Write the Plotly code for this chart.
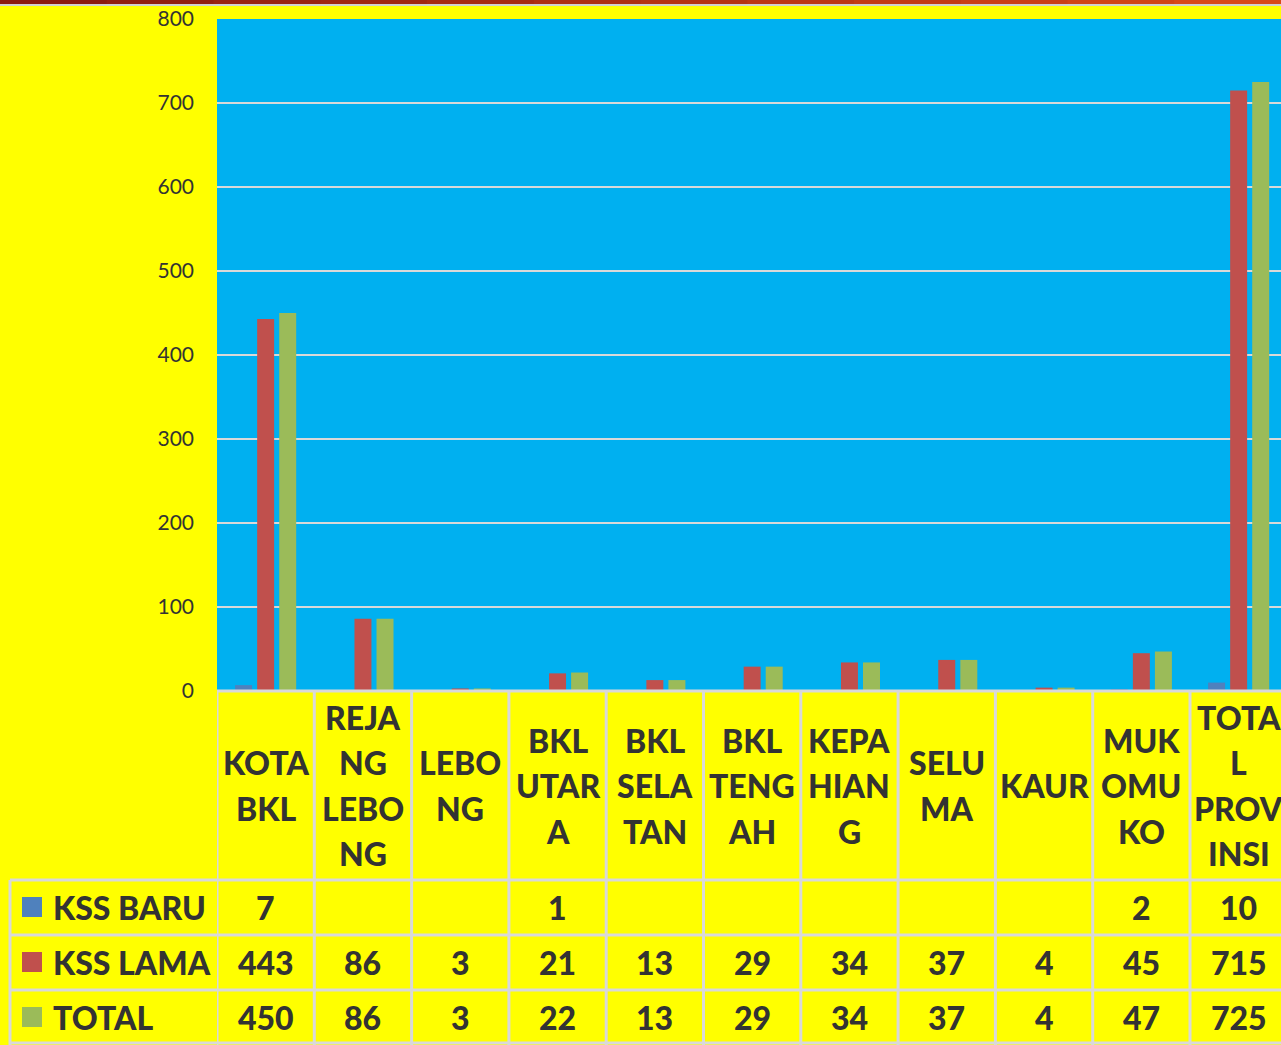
import plotly.graph_objects as go

# ---------------- data ----------------
categories = ["KOTA BKL", "REJANG LEBONG", "LEBONG", "BKL UTARA", "BKL SELATAN",
              "BKL TENGAH", "KEPAHIANG", "SELUMA", "KAUR", "MUKOMUKO", "TOTAL PROVINSI"]
category_lines = [["KOTA", "BKL"], ["REJA", "NG", "LEBO", "NG"], ["LEBO", "NG"],
                  ["BKL", "UTAR", "A"], ["BKL", "SELA", "TAN"], ["BKL", "TENG", "AH"],
                  ["KEPA", "HIAN", "G"], ["SELU", "MA"], ["KAUR"], ["MUK", "OMU", "KO"],
                  ["TOTA", "L", "PROV", "INSI"]]
series_names = ["KSS BARU", "KSS LAMA", "TOTAL"]
kss_baru = [7, None, None, 1, None, None, None, None, None, 2, 10]
kss_lama = [443, 86, 3, 21, 13, 29, 34, 37, 4, 45, 715]
total = [450, 86, 3, 22, 13, 29, 34, 37, 4, 47, 725]
y_ticks = [0, 100, 200, 300, 400, 500, 600, 700, 800]

colors = ["#4F81BD", "#C0504D", "#9BBB59"]
W, H = 1281, 1045
TXT = "#333333"
FONT = "Lato"
LINE = "#D9D9D9"
BIG = 32

def py(p):  # pixel y -> paper
    return 1 - p / H

def px(p):
    return p / W

plot_left, plot_top, plot_bottom = 217, 19, 691
cat_w = 97.3
x_end = -0.5 + (W - plot_left) / cat_w

fig = go.Figure()
for name, vals, col in zip(series_names, [kss_baru, kss_lama, total], colors):
    fig.add_trace(go.Bar(x=list(range(len(categories))), y=vals, name=name,
                         marker=dict(color=col, line=dict(width=0)),
                         showlegend=False, hovertext=categories))

shapes = []
annotations = []

# top decorative bar
n_seg = 12
for i in range(n_seg):
    t = i / (n_seg - 1)
    r = int(0x8B + (0xD8 - 0x8B) * t)
    g = int(0x1A + (0x48 - 0x1A) * t)
    b = int(0x10 + (0x18 - 0x10) * t)
    shapes.append(dict(type="rect", xref="paper", yref="paper",
                       x0=i / n_seg, x1=(i + 1) / n_seg + 0.001, y0=py(4), y1=1,
                       fillcolor=f"rgb({r},{g},{b})", line=dict(width=0), layer="above"))
shapes.append(dict(type="rect", xref="paper", yref="paper", x0=0, x1=1,
                   y0=py(6), y1=py(4), fillcolor="#D0D0D0", line=dict(width=0)))

# table vertical lines at category boundaries
for i in range(len(categories) + 1):
    shapes.append(dict(type="line", xref="x", yref="paper", x0=i - 0.5, x1=i - 0.5,
                       y0=py(H), y1=py(plot_bottom), line=dict(color=LINE, width=3)))
# legend column left border
shapes.append(dict(type="line", xref="paper", yref="paper", x0=px(10), x1=px(10),
                   y0=py(H), y1=py(880), line=dict(color=LINE, width=3)))
# horizontal lines
for yy in [880, 935, 990, 1043]:
    shapes.append(dict(type="line", xref="paper", yref="paper", x0=px(10), x1=1,
                       y0=py(yy), y1=py(yy), line=dict(color=LINE, width=3)))
# axis baseline
shapes.append(dict(type="line", xref="paper", yref="paper", x0=px(plot_left), x1=1,
                   y0=py(plot_bottom), y1=py(plot_bottom), line=dict(color=LINE, width=3)))

# category labels (each line separately for spacing)
header_mid = (plot_bottom + 880) / 2
line_sp = 45.5
for i, lines in enumerate(category_lines):
    n = len(lines)
    for k, ln in enumerate(lines):
        yy = header_mid + (k - (n - 1) / 2) * line_sp
        annotations.append(dict(x=i, xref="x", y=py(yy), yref="paper", text=ln,
                                showarrow=False, xanchor="center", yanchor="middle",
                                font=dict(family=FONT, size=BIG, color=TXT, weight=900)))

# value rows
row_centers = [907, 962, 1017]
for r, (name, vals, col) in enumerate(zip(series_names, [kss_baru, kss_lama, total], colors)):
    yc = row_centers[r]
    shapes.append(dict(type="rect", xref="paper", yref="paper", x0=px(22), x1=px(42),
                       y0=py(yc + 10), y1=py(yc - 10), fillcolor=col, line=dict(width=0)))
    annotations.append(dict(x=px(51), xref="paper", y=py(yc), yref="paper", text=name,
                            showarrow=False, xanchor="left", yanchor="middle",
                            font=dict(family=FONT, size=BIG, color=TXT, weight=900)))
    for i, v in enumerate(vals):
        if v is None:
            continue
        annotations.append(dict(x=i, xref="x", y=py(yc), yref="paper", text=str(v),
                                showarrow=False, xanchor="center", yanchor="middle",
                                font=dict(family=FONT, size=BIG, color=TXT, weight=900)))

fig.update_layout(
    width=W, height=H, autosize=False,
    margin=dict(l=0, r=0, t=0, b=0, pad=0, autoexpand=False),
    paper_bgcolor="#FFFF00",
    plot_bgcolor="#00B0F0",
    barmode="group", bargap=0.32, bargroupgap=0.23,
    shapes=shapes, annotations=annotations,
    xaxis=dict(domain=[px(plot_left), 1], range=[-0.5, x_end], showticklabels=False,
               showgrid=False, zeroline=False, fixedrange=True, automargin=False),
    yaxis=dict(domain=[py(plot_bottom), py(plot_top)], range=[0, 800],
               tickvals=y_ticks, ticktext=[str(t) for t in y_ticks],
               showgrid=True, gridcolor=LINE, gridwidth=2, zeroline=False,
               ticks="", ticklabelstandoff=22, automargin=False,
               tickfont=dict(family=FONT, size=21, color=TXT)),
    font=dict(family=FONT, color=TXT),
)

fig.write_html("out.html", config={"displayModeBar": False},
               post_script="document.body.style.margin='0';document.body.style.padding='0';"
                           "document.documentElement.style.overflow='hidden';")
